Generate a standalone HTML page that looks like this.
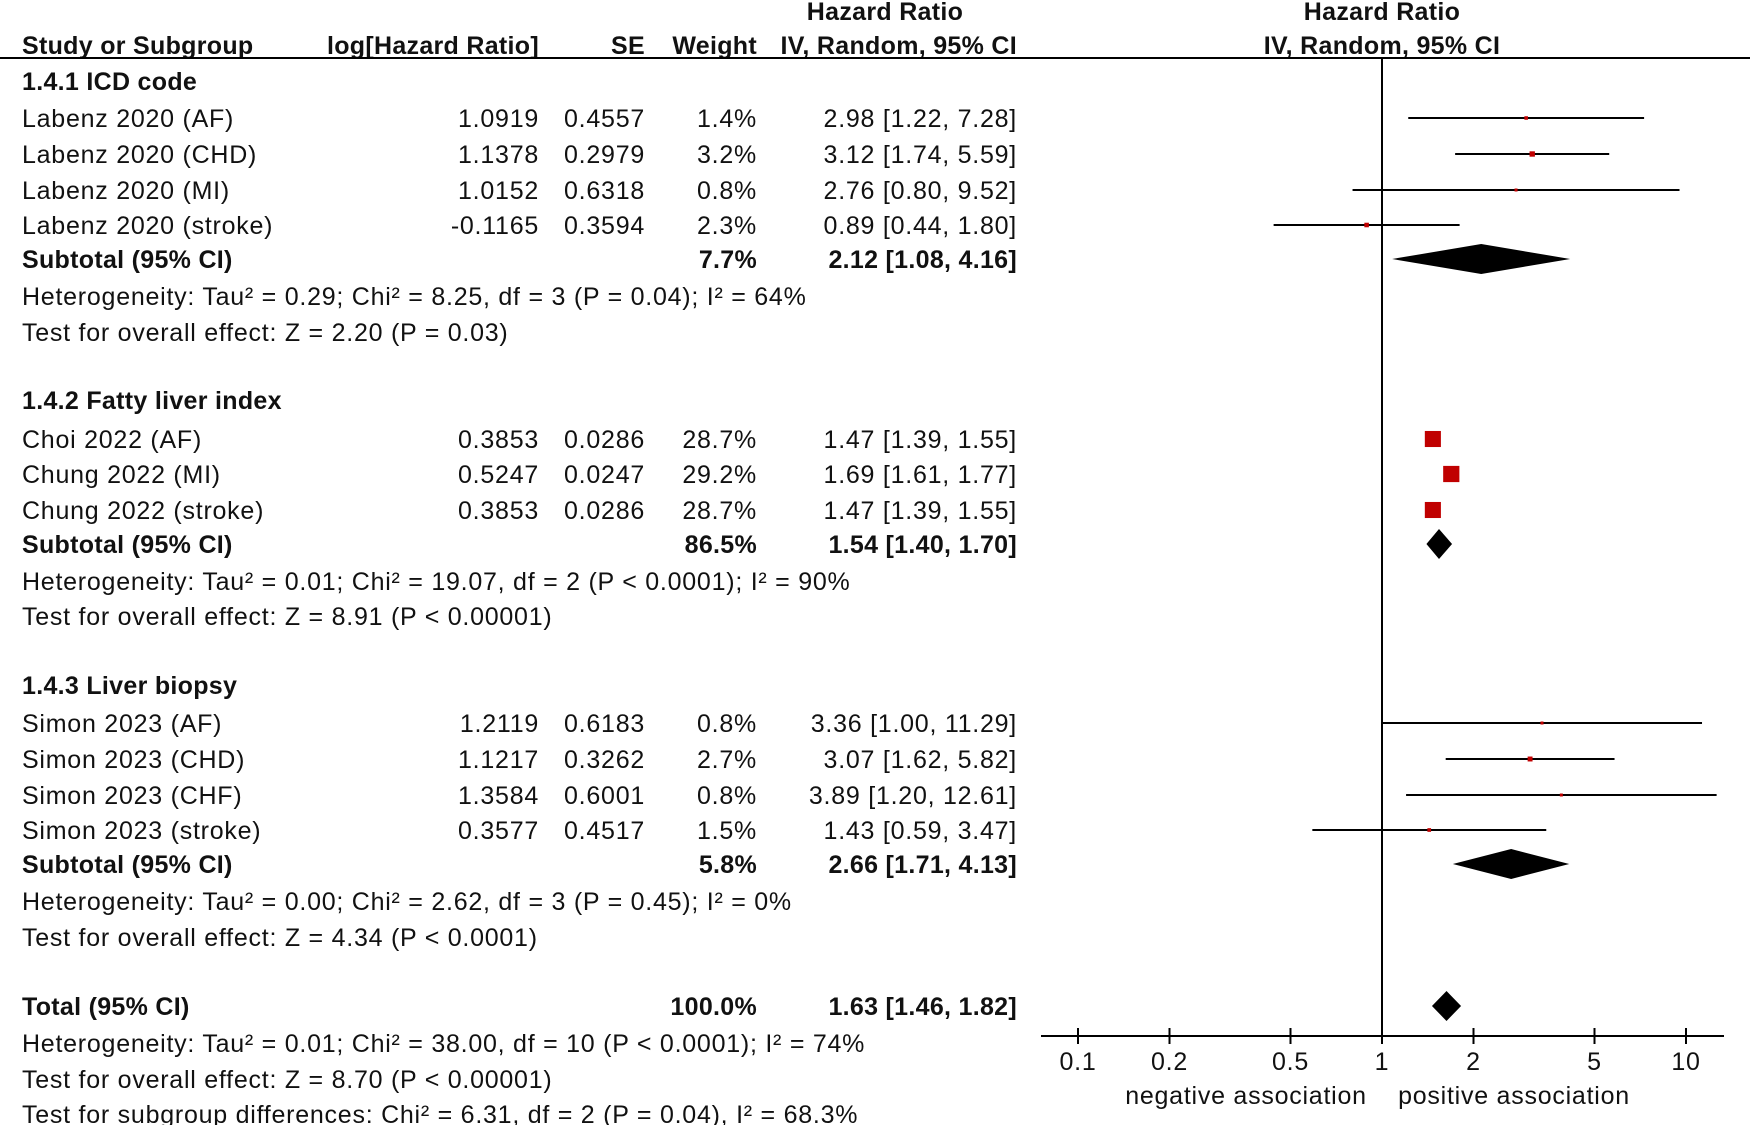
<!DOCTYPE html>
<html><head><meta charset="utf-8"><style>
html,body{margin:0;padding:0;background:#fff;}
svg{display:block;font-family:"Liberation Sans",Arial,sans-serif;}
text{font-size:25px;fill:#111;letter-spacing:0.75px;}
.b{font-weight:bold;letter-spacing:0.3px;}
</style></head><body>
<svg id="plot" width="1750" height="1125" viewBox="0 0 1750 1125">
<g id="tbl"></g>
<g id="fig"></g>
</svg>
<script>
const studies = ["Labenz 2020 (AF)","Labenz 2020 (CHD)","Labenz 2020 (MI)","Labenz 2020 (stroke)","Choi 2022 (AF)","Chung 2022 (MI)","Chung 2022 (stroke)","Simon 2023 (AF)","Simon 2023 (CHD)","Simon 2023 (CHF)","Simon 2023 (stroke)"];
const logHR = ["1.0919","1.1378","1.0152","-0.1165","0.3853","0.5247","0.3853","1.2119","1.1217","1.3584","0.3577"];
const seVals = ["0.4557","0.2979","0.6318","0.3594","0.0286","0.0247","0.0286","0.6183","0.3262","0.6001","0.4517"];
const weights = [1.4,3.2,0.8,2.3,28.7,29.2,28.7,0.8,2.7,0.8,1.5];
const hr = [2.98,3.12,2.76,0.89,1.47,1.69,1.47,3.36,3.07,3.89,1.43];
const lo = [1.22,1.74,0.80,0.44,1.39,1.61,1.39,1.00,1.62,1.20,0.59];
const hi = [7.28,5.59,9.52,1.80,1.55,1.77,1.55,11.29,5.82,12.61,3.47];
const studyRowY = [118,154,190,225,439,474,510,723,759,795,830];
const subNames = ["Subtotal (95% CI)","Subtotal (95% CI)","Subtotal (95% CI)","Total (95% CI)"];
const subWeight = ["7.7%","86.5%","5.8%","100.0%"];
const subHR = [2.12,1.54,2.66,1.63];
const subLo = [1.08,1.40,1.71,1.46];
const subHi = [4.16,1.70,4.13,1.82];
const subRowY = [259,544,864,1006];
const ticks = [0.1,0.2,0.5,1,2,5,10];
const tickLabels = ["0.1","0.2","0.5","1","2","5","10"];

const NS="http://www.w3.org/2000/svg";
const tbl=document.getElementById('tbl'), fig=document.getElementById('fig');
function mk(p,tag,attrs,txt){const e=document.createElementNS(NS,tag);for(const k in attrs)e.setAttribute(k,attrs[k]);if(txt!==undefined)e.textContent=txt;p.appendChild(e);return e;}
function xs(v){return 1382+304*Math.log10(v);}
function f2(v){return v.toFixed(2);}
function T(x,y,s,anchor,bold,name){const e=mk(tbl,'text',{x:x,y:y,'text-anchor':anchor||'start',class:bold?'b':''},s);


return e;}

T(885,20,"Hazard Ratio","middle",true,"header-hazard-ratio-left");
T(1382,20,"Hazard Ratio","middle",true,"header-hazard-ratio-right");
T(22,54,"Study or Subgroup","start",true,"header-study");
T(539,54,"log[Hazard Ratio]","end",true,"header-loghr");
T(645,54,"SE","end",true,"header-se");
T(757,54,"Weight","end",true,"header-weight");
T(1017,54,"IV, Random, 95% CI","end",true,"header-ci-left");
T(1382,54,"IV, Random, 95% CI","middle",true,"header-ci-right");
const hl=mk(tbl,'line',{x1:0,x2:1750,y1:58,y2:58,stroke:'#000','stroke-width':2});



T(22,90,"1.4.1 ICD code","start",true,"group-icd-code");
T(22,409,"1.4.2 Fatty liver index","start",true,"group-fatty-liver-index");
T(22,694,"1.4.3 Liver biopsy","start",true,"group-liver-biopsy");

const notes=[[305,"Heterogeneity: Tau² = 0.29; Chi² = 8.25, df = 3 (P = 0.04); I² = 64%"],[341,"Test for overall effect: Z = 2.20 (P = 0.03)"],
[590,"Heterogeneity: Tau² = 0.01; Chi² = 19.07, df = 2 (P < 0.0001); I² = 90%"],[625,"Test for overall effect: Z = 8.91 (P < 0.00001)"],
[910,"Heterogeneity: Tau² = 0.00; Chi² = 2.62, df = 3 (P = 0.45); I² = 0%"],[946,"Test for overall effect: Z = 4.34 (P < 0.0001)"],
[1052,"Heterogeneity: Tau² = 0.01; Chi² = 38.00, df = 10 (P < 0.0001); I² = 74%"],[1088,"Test for overall effect: Z = 8.70 (P < 0.00001)"],
[1123,"Test for subgroup differences: Chi² = 6.31, df = 2 (P = 0.04), I² = 68.3%"]];
notes.forEach((n,i)=>T(22,n[0],n[1],"start",false,"stat-note-"+i));

const vl=mk(fig,'line',{x1:xs(1),x2:xs(1),y1:58,y2:1036,stroke:'#000','stroke-width':2});


const ax=mk(fig,'line',{x1:1041,x2:1724,y1:1036,y2:1036,stroke:'#000','stroke-width':2});


ticks.forEach((t,i)=>{
  const tk=mk(fig,'line',{x1:xs(t),x2:xs(t),y1:1028,y2:1044,stroke:'#000','stroke-width':2});
  
  
  const tl=mk(fig,'text',{x:xs(t),y:1070,'text-anchor':'middle'},tickLabels[i]);
  
  
});
const ln=mk(fig,'text',{x:1246,y:1104,'text-anchor':'middle'},"negative association");


const lp=mk(fig,'text',{x:1514,y:1104,'text-anchor':'middle'},"positive association");



studies.forEach((s,i)=>{
  const y=studyRowY[i];
  T(22,y+9,s,"start",false,"study-name");
  T(539,y+9,logHR[i],"end",false,"study-loghr");
  T(645,y+9,seVals[i],"end",false,"study-se");
  T(757,y+9,weights[i].toFixed(1)+"%","end",false,"study-weight");
  T(1017,y+9,f2(hr[i])+" ["+f2(lo[i])+", "+f2(hi[i])+"]","end",false,"study-ci");
  const x1=Math.max(1041,xs(lo[i])), x2=Math.min(1724,xs(hi[i]));
  const l=mk(fig,'line',{x1:x1,x2:x2,y1:y,y2:y,stroke:'#000','stroke-width':2});
  
  
  const sz=Math.max(3,3*Math.sqrt(weights[i]));
  const r=mk(fig,'rect',{x:xs(hr[i])-sz/2,y:y-sz/2,width:sz,height:sz,fill:'#c00000'});
  
  
});
subNames.forEach((s,i)=>{
  const y=subRowY[i];
  T(22,y+9,s,"start",true,i==3?"total-label":"subtotal-label");
  T(757,y+9,subWeight[i],"end",true,"subtotal-weight");
  T(1017,y+9,f2(subHR[i])+" ["+f2(subLo[i])+", "+f2(subHi[i])+"]","end",true,"subtotal-ci");
  const a=xs(subLo[i]),c=xs(subHR[i]),b=xs(subHi[i]);
  const d=mk(fig,'polygon',{points:`${a},${y} ${c},${y-15} ${b},${y} ${c},${y+15}`,fill:'#000'});
  
  
});
</script>
</body></html>
